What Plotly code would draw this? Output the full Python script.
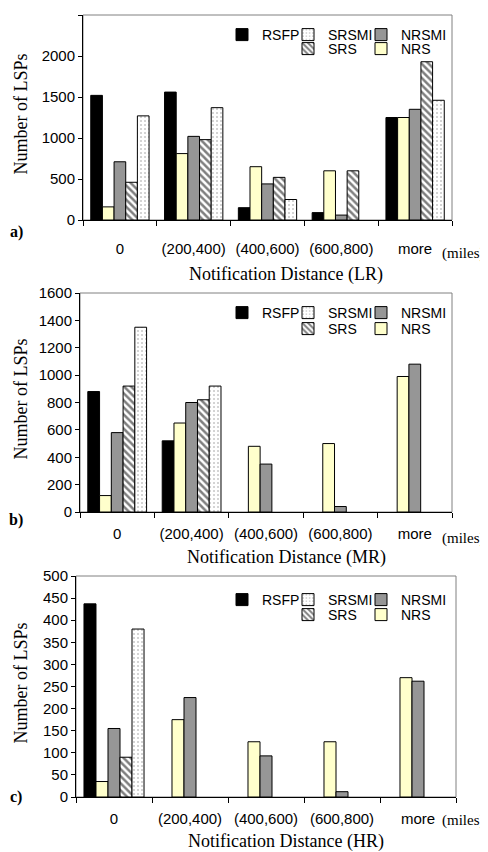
import plotly.graph_objects as go

categories = ["0", "(200,400)", "(400,600)", "(600,800)", "more"]
series = ["RSFP", "NRS", "NRSMI", "SRS", "SRSMI"]

# Panel a) LR  (None = no bar drawn)
lr_rsfp = [1520, 1560, 150, 90, 1250]
lr_nrs = [160, 810, 650, 600, 1250]
lr_nrsmi = [710, 1020, 440, 60, 1350]
lr_srs = [460, 980, 520, 600, 1930]
lr_srsmi = [1270, 1370, 250, None, 1460]

# Panel b) MR
mr_rsfp = [880, 520, None, None, None]
mr_nrs = [120, 650, 480, 500, 990]
mr_nrsmi = [580, 800, 350, 40, 1080]
mr_srs = [920, 820, None, None, None]
mr_srsmi = [1350, 920, None, None, None]

# Panel c) HR
hr_rsfp = [437, None, None, None, None]
hr_nrs = [35, 175, 125, 125, 270]
hr_nrsmi = [155, 225, 93, 12, 262]
hr_srs = [90, None, None, None, None]
hr_srsmi = [380, None, None, None, None]

panel_titles = ["Notification Distance (LR)", "Notification Distance (MR)", "Notification Distance (HR)"]
panel_labels = ["a)", "b)", "c)"]
y_ranges = [2500, 1600, 500]
y_dticks = [500, 200, 50]

panels = [
    dict(RSFP=lr_rsfp, NRS=lr_nrs, NRSMI=lr_nrsmi, SRS=lr_srs, SRSMI=lr_srsmi),
    dict(RSFP=mr_rsfp, NRS=mr_nrs, NRSMI=mr_nrsmi, SRS=mr_srs, SRSMI=mr_srsmi),
    dict(RSFP=hr_rsfp, NRS=hr_nrs, NRSMI=hr_nrsmi, SRS=hr_srs, SRSMI=hr_srsmi),
]

# page has an 8px body margin; figure is sized to fill the rest of the window
OFF = 8
W, H = 488 - OFF, 852 - OFF


def px(x):
    return (x - OFF) / W


def py(y):
    return 1 - (y - OFF) / H


# plot area pixel boxes in window coords: left, right, top, bottom
boxes = [(83, 452, 15, 220), (80, 452, 293, 512), (76, 456, 576, 797)]
label_standoff = [15, 8, 8]

styles = {
    "RSFP": dict(color="#000000"),
    "NRS": dict(color="#FFFFCC"),
    "NRSMI": dict(color="#969696"),
    "SRS": dict(color="#ffffff", pattern=dict(shape="\\", fgcolor="#000000", bgcolor="#ffffff", size=5, solidity=0.5)),
    "SRSMI": dict(color="#ffffff", pattern=dict(shape=".", fgcolor="#8c8c8c", bgcolor="#ffffff", size=4, solidity=0.2)),
}

# legend layout: per panel rows (y px) and swatch centers (x px)
legend_rows = [(35, 49), (313, 329), (600, 615)]
legend_cols = {"RSFP": (242, 0), "SRSMI": (308, 0), "NRSMI": (381, 0), "SRS": (308, 1), "NRS": (381, 1)}

fig = go.Figure()
layout = {}
ann = []
shapes = []
legend_idx = 0
serif = "Liberation Serif, Times New Roman"
sans = "Liberation Sans, Arial"
for p, data in enumerate(panels):
    l, r, t, b = boxes[p]
    xa = "x" if p == 0 else f"x{p+1}"
    ya = "y" if p == 0 else f"y{p+1}"
    xkey = "xaxis" if p == 0 else f"xaxis{p+1}"
    ykey = "yaxis" if p == 0 else f"yaxis{p+1}"
    for s in series:
        legend_idx += 1
        lid = "legend" if legend_idx == 1 else f"legend{legend_idx}"
        cx, row = legend_cols[s]
        ly = legend_rows[p][row]
        layout[lid] = dict(
            x=px(cx - 20), y=py(ly), xanchor="left", yanchor="middle",
            orientation="h", bgcolor="rgba(0,0,0,0)",
            font=dict(family=sans, size=14, color="#000"),
            itemwidth=30, tracegroupgap=0,
        )
        fig.add_trace(go.Bar(
            x=categories, y=data[s], name=s, xaxis=xa, yaxis=ya,
            marker=dict(line=dict(color="#000", width=1), **styles[s]),
            legend=lid, showlegend=True,
        ))
    layout[xkey] = dict(
        domain=[px(l), px(r)], anchor=ya, type="category",
        showline=True, linecolor="#000", linewidth=1,
        ticks="outside", tickson="boundaries", ticklen=5, tickcolor="#000",
        tickfont=dict(family=sans, size=15, color="#000"),
        ticklabelstandoff=label_standoff[p], showgrid=False, zeroline=False,
        fixedrange=True, automargin=False,
    )
    layout[ykey] = dict(
        domain=[py(b), py(t)], anchor=xa,
        range=[0, y_ranges[p]], dtick=y_dticks[p], tick0=0,
        showline=True, linecolor="#000", linewidth=1,
        ticks="outside", ticklen=4, tickcolor="#000",
        tickfont=dict(family=sans, size=15, color="#000"),
        showgrid=False, zeroline=False, fixedrange=True, automargin=False,
    )
    shapes.append(dict(type="rect", xref=f"{xa} domain", yref=f"{ya} domain",
                       x0=0, x1=1, y0=0, y1=1, line=dict(color="#808080", width=1),
                       layer="below"))
    # y title
    ann.append(dict(text="Number of LSPs", x=px(20), y=py((t + b) / 2 - 3),
                    xref="paper", yref="paper", showarrow=False, textangle=-90,
                    font=dict(family=serif, size=18, color="#000"),
                    xanchor="center", yanchor="middle"))
    # x title
    xt_y = [274, 557, 841][p]
    ann.append(dict(text=panel_titles[p], x=px(286), y=py(xt_y),
                    xref="paper", yref="paper", showarrow=False,
                    font=dict(family=serif, size=18, color="#000"),
                    xanchor="center", yanchor="middle"))
    # miles
    m_y = [253, 538, 820][p]
    ann.append(dict(text="(miles)", x=px(463), y=py(m_y),
                    xref="paper", yref="paper", showarrow=False,
                    font=dict(family=serif, size=15, color="#000"),
                    xanchor="center", yanchor="middle"))
    # panel label
    pl_y = [232, 520, 797][p]
    ann.append(dict(text=f"<b>{panel_labels[p]}</b>", x=px(16), y=py(pl_y),
                    xref="paper", yref="paper", showarrow=False,
                    font=dict(family=serif, size=16, color="#000"),
                    xanchor="center", yanchor="middle"))

fig.update_layout(
    width=W, height=H, margin=dict(l=0, r=0, t=0, b=0, autoexpand=False),
    paper_bgcolor="#fff", plot_bgcolor="#fff",
    barmode="group", bargap=0.21, bargroupgap=0,
    annotations=ann, shapes=shapes, **layout,
)
fig.write_html("out.html")
